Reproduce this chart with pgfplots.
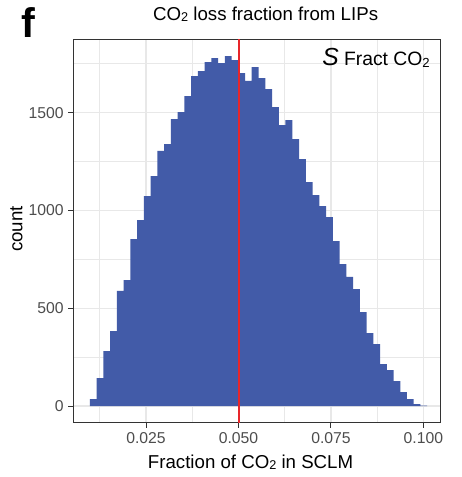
\documentclass[border=0pt]{standalone}
\usepackage{fontspec}
\setmainfont{Liberation Sans}
\usepackage{graphicx}
\usepackage{pgfplots}
\pgfplotsset{compat=1.18}

\definecolor{barblue}{RGB}{66,91,168}
\definecolor{vred}{RGB}{232,38,42}
\definecolor{grid92}{RGB}{232,232,232}
\definecolor{gray20}{RGB}{51,51,51}
\definecolor{gray30}{RGB}{77,77,77}
\newcommand{\two}{\raisebox{-0.08em}{\scalebox{0.68}{2}}}

\begin{document}
\begin{tikzpicture}
\path[use as bounding box] (-55pt,-40.7pt) rectangle (290.8pt,317pt);
\begin{axis}[
  at={(0,0)}, anchor=south west,
  scale only axis, width=275pt, height=287.5pt,
  xmin=0.00534, xmax=0.1045, ymin=-85, ymax=1875,
  axis line style={gray20, line width=0.75pt},
  xtick={0.025,0.05,0.075,0.1}, xticklabels={0.025,0.050,0.075,0.100},
  ytick={0,500,1000,1500}, yticklabels={0,500,1000,1500},
  minor xtick={0.0125,0.0375,0.0625,0.0875},
  minor ytick={250,750,1250,1750},
  xtick pos=bottom, ytick pos=left, tick align=outside,
  major tick length=3.75pt, minor tick length=0pt,
  tick style={gray20, line width=0.75pt},
  grid=both,
  major grid style={grid92, line width=0.9pt},
  minor grid style={grid92, line width=0.55pt},
  ticklabel style={font=\fontsize{11.8}{12}\selectfont, text=gray30},
]
% histogram, 50 bins (left edges; last y is ignored)
\addplot[ybar interval, bar interval width=1.03, fill=barblue, draw=none] coordinates {
(0.009850,36) (0.011673,143) (0.013496,281) (0.015319,383) (0.017142,589)
(0.018965,644) (0.020788,854) (0.022611,951) (0.024434,1074) (0.026257,1176)
(0.028080,1305) (0.029903,1339) (0.031726,1467) (0.033549,1503) (0.035372,1585)
(0.037195,1687) (0.039018,1713) (0.040841,1759) (0.042664,1779) (0.044487,1754)
(0.046310,1789) (0.048133,1769) (0.049956,1702) (0.051779,1662) (0.053602,1733)
(0.055425,1677) (0.057248,1621) (0.059071,1529) (0.060894,1437) (0.062717,1462)
(0.064540,1365) (0.066363,1263) (0.068186,1145) (0.070009,1079) (0.071832,1022)
(0.073655,966) (0.075478,844) (0.077301,726) (0.079124,660) (0.080947,598)
(0.082770,481) (0.084593,373) (0.086416,317) (0.088239,215) (0.090062,184)
(0.091885,128) (0.093708,72) (0.095531,36) (0.097354,10) (0.099177,3)
(0.101000,3)
};
% reference line
\addplot[vred, line width=1.5pt] coordinates {(0.05,-85) (0.05,1875)};
\end{axis}

\node[anchor=base, font=\fontsize{14}{14}\selectfont] at (144.2pt,301.8pt) {CO\two{} loss fraction from LIPs};
\node[anchor=base west, inner sep=0pt, font=\bfseries\fontsize{31}{31}\selectfont] at (-39pt,288.5pt) {f};
\node[anchor=base, font=\fontsize{14}{14}\selectfont] at (132.9pt,-34.2pt) {Fraction of CO\two{} in SCLM};
\node[rotate=90, font=\fontsize{14}{14}\selectfont] at (-42.7pt,145.3pt) {count};
\node[anchor=base east, inner sep=0pt] at (267.5pt,267.7pt)
  {{\itshape\fontsize{18.5}{18.5}\selectfont S}\hspace{4pt}{\fontsize{14.5}{14.5}\selectfont Fract CO\two}};
\end{tikzpicture}
\end{document}
